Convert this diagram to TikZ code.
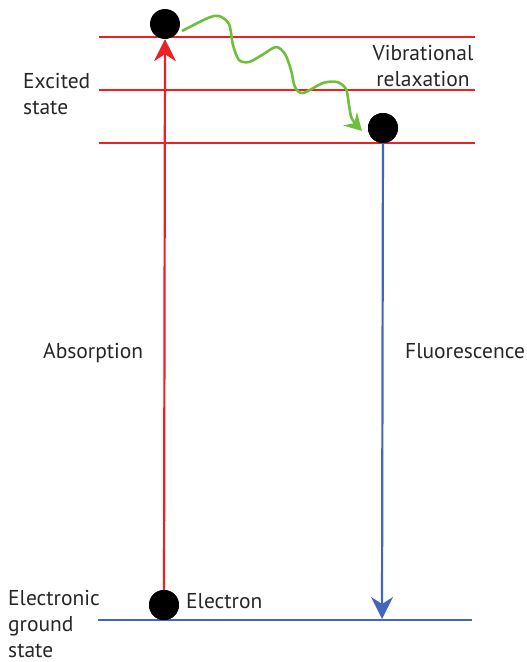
\documentclass[tikz,border=0pt]{standalone}
\usepackage{fontspec}
\setmainfont{PT Sans}
\usetikzlibrary{arrows.meta}
\definecolor{lvred}{RGB}{237,32,36}
\definecolor{lvblue}{RGB}{66,102,190}
\definecolor{lvgreen}{RGB}{110,192,60}
\tikzset{
  level/.style={line width=2.4pt},
  electron/.style={circle,fill=black,inner sep=0pt,minimum size=30pt},
  lbl/.style={inner sep=0pt,font=\fontsize{21.5}{26}\selectfont,text=black!85},
  bigtip/.style={-{Stealth[length=22pt,width=22pt,inset=7pt]}},
  smalltip/.style={-{Stealth[length=17pt,width=19pt,inset=6pt]}}
}
\begin{document}
\begin{tikzpicture}[x=1pt,y=-1pt]
\useasboundingbox (0,0) rectangle (527,662);

% energy levels
\draw[level,lvred] (99,37) -- (475,37);
\draw[level,lvred] (99,90) -- (475,90);
\draw[level,lvred] (99,143) -- (475,143);
\draw[level,lvblue] (98,620) -- (472,620);

% electrons
\node[electron] (e0) at (164,605) {};
\node[electron] (e1) at (165,24) {};
\node[electron] (e2) at (383,128) {};
\coordinate (g) at (382,619);

% absorption and fluorescence
\draw[lvred,line width=2.2pt,bigtip] (e0.center) -- (e1.south);
\draw[lvblue,line width=2.2pt,bigtip] (e2.center) -- (g);
\node[electron] at (e0) {};
\node[electron] at (e2) {};

% vibrational relaxation
\coordinate (w0) at (182,31);
\coordinate (w1) at (362,131);
\draw[lvgreen,line width=2.6pt,smalltip] plot[smooth,tension=0.5] coordinates
  {(w0) (208,18) (219,16) (229,24) (233,45) (239,60) (249,62) (262,55)
   (276,47) (285,54) (291,70) (295,87) (303,93) (323,83) (337,82)
   (346,89) (349,105) (352,119) (w1)};

% labels
\node[lbl,align=center,anchor=north] (vr) at (423,45) {Vibrational\\relaxation};
\node[lbl,align=left,anchor=north west] (ex) at (23,73) {Excited\\state};
\node[lbl,anchor=base west] (ab) at (43,358) {Absorption};
\node[lbl,anchor=base west] (fl) at (405,358) {Fluorescence};
\node[lbl,anchor=base west] (el) at (186,608) {Electron};
\node[lbl,align=left,anchor=north west] (gs) at (8,590) {Electronic\\ground\\state};
\end{tikzpicture}
\end{document}
